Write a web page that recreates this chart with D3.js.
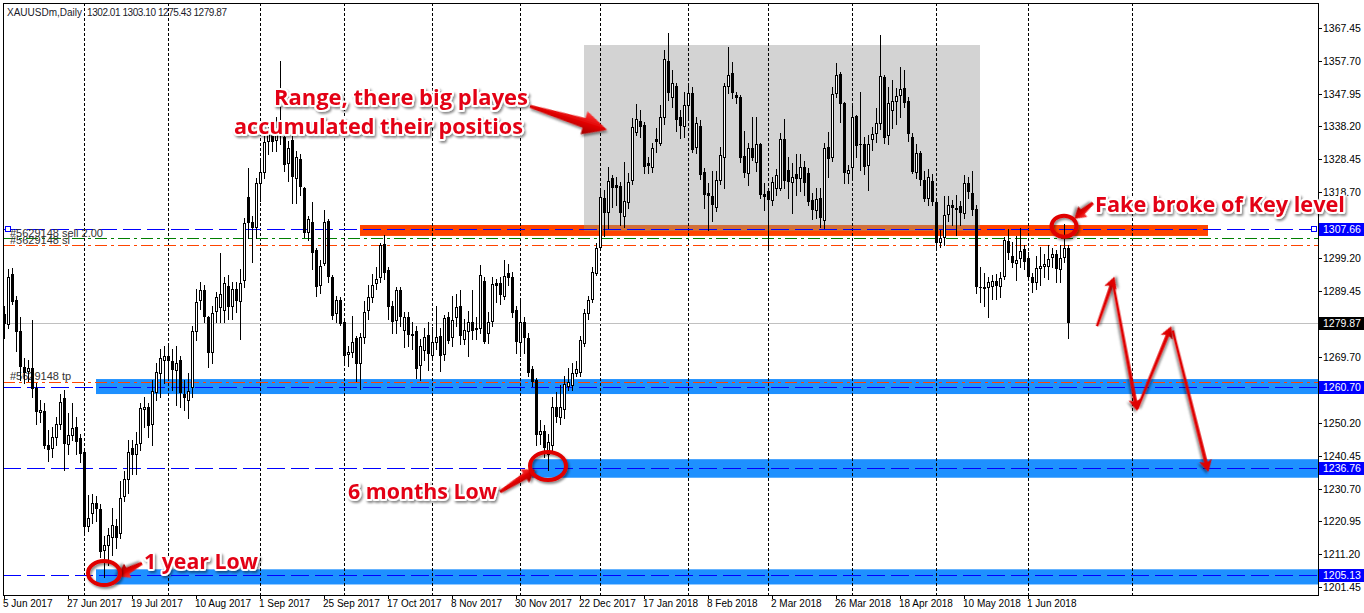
<!DOCTYPE html>
<html><head><meta charset="utf-8">
<script src="https://cdn.jsdelivr.net/npm/d3@7"></script>
<style>
html,body{margin:0;padding:0;background:#fff;overflow:hidden}
svg{display:block}
</style></head><body>
<script>
// ---------- DATA ----------
const symbolTitle = "XAUUSDm,Daily";
const lastOHLC = "1302.01 1303.10 1275.43 1279.87";
const opens = [1282.5,1279.5,1294.5,1286.7,1277.5,1266.8,1265.5,1266.5,1260.5,1253.4,1253.7,1243.5,1242.7,1246,1250,1257.6,1244,1246.6,1249,1245.7,
1241.5,1219.5,1223.4,1226.4,1224.6,1212.5,1213.9,1216.3,1219.5,1217.5,1228.5,1233.5,1242.7,1241,1244.2,1254.2,1254.9,1249.8,1259.5,1265,
1269,1270,1268.7,1266,1268.8,1258.7,1257,1260.8,1277.5,1286.7,1289.6,1281.6,1271.2,1283.4,1284.5,1283.7,1290.8,1285,1290,1286.5,
1292.6,1317.3,1309.8,1308.5,1321.4,1324.7,1333.9,1336.3,1334.2,1338,1335,1327.3,1334.2,1322.9,1328.5,1320,1307,1309.8,1301.5,1291,
1297.6,1310,1293.5,1282.8,1286.7,1280,1270.6,1271.2,1275.4,1268,1275.7,1283.7,1287.6,1291.6,1293.5,1303.3,1295.6,1285,1280.7,1289.6,
1277.7,1281.6,1276.6,1277.5,1267.4,1271.8,1276.3,1270.3,1274.2,1276,1270.6,1281.6,1275.7,1281.6,1285,1275,1277.5,1280.2,1278.3,1278.3,
1292.3,1277,1280.4,1291.7,1291.7,1287.9,1294.7,1293.5,1283.7,1274.2,1280.2,1275.5,1266.2,1262.9,1247,1247.7,1241,1243.6,1254.9,1252,
1254.3,1261,1261.4,1265,1265.3,1273.9,1282.8,1287,1294.7,1302.4,1317,1312.8,1322.9,1320.8,1320.5,1311.6,1315.8,1322.3,1336.6,1339.8,
1338.6,1327.3,1326.2,1334.5,1333.3,1341,1357.6,1347,1350.2,1341,1338.3,1344.6,1348.1,1332.1,1338.3,1324.7,1318.4,1317.5,1314.3,1322.3,
1329.1,1350.2,1354,1347.5,1347,1329.4,1324.4,1331.8,1327.7,1333,1318.2,1319,1316.4,1320,1320,1334.5,1325.3,1321.7,1324.1,1323,
1326.2,1324.4,1316.4,1313.4,1317,1310.4,1332,1329.1,1348,1353.8,1345.2,1324.4,1326.2,1341.3,1333,1333,1326.8,1334.5,1336.3,1339.2,
1352.9,1335.7,1343.1,1345.8,1347.6,1349.6,1345.8,1335.1,1324.7,1330.3,1322.3,1317,1322,1315.8,1304,1305.4,1312.2,1314.9,1314,1314.6,
1312.5,1321.4,1318.4,1313.7,1290.5,1290.2,1290.5,1290.8,1292.3,1290.8,1293.8,1304.2,1299.7,1297.6,1299.1,1301.8,1299.1,1293.5,1292,1296.2,
1296.8,1296.8,1299.4,1300.3,1295.9,1299.4,1302.01];
const highs = [1285,1296,1296.2,1288,1281.5,1269.5,1269,1280.7,1262,1257,1256,1248,1249,1252,1258.7,1260,1253,1256,1252,1247,
1242.5,1228.7,1229,1228.5,1226,1216.5,1219,1225,1221.5,1233,1236,1245,1245,1247.5,1256,1257.8,1256,1263,1268,1272,
1273,1274,1272,1273,1270,1263,1265,1279,1290,1292,1291,1282,1285,1289,1300.5,1293.5,1294,1292,1292,1296,
1311,1326,1311.5,1323,1328,1336,1339,1338,1341,1357.6,1337,1334,1336,1331,1330,1320.2,1311.6,1315.8,1302,1298.5,
1313.4,1310.7,1294,1288,1287.5,1281,1273,1282,1276,1277,1286.5,1291,1294.3,1296.5,1303.5,1306,1296.5,1286.5,1290.6,1290.5,
1283,1283,1280.2,1279,1275,1278.3,1280,1278.8,1284.8,1278.5,1282.3,1283,1288,1288.5,1289.6,1281,1283.5,1289.6,1281.5,1297,
1293.5,1283,1293.6,1293,1293.6,1298.5,1297.5,1295,1285,1286.7,1281.5,1277,1267,1263.5,1251,1249.5,1247,1258,1259.3,1261.4,
1264,1266.5,1268,1268.7,1276,1284,1288,1296.5,1303.5,1320,1319.3,1326.2,1323.8,1323.2,1321.7,1327.7,1324.4,1340.7,1344.9,1343,
1339.5,1329,1333.3,1337.8,1344.6,1360.9,1366,1355,1351,1343,1348.5,1350.2,1350,1341,1340,1325.9,1321.4,1325,1325,1332,
1351,1361.8,1357.4,1348.5,1347.5,1337,1333.3,1341,1341,1333.3,1321.4,1320,1323.2,1325.5,1336.3,1340.5,1329,1327.3,1330,1330,
1328,1326,1318.4,1320,1320,1333.3,1336.6,1350,1357,1354.5,1345.6,1326.8,1344.6,1341.5,1348.5,1335,1335.7,1338,1343.7,1365.4,
1353.5,1350,1352,1349.5,1355.9,1355,1347,1336.3,1333,1331,1325,1325.5,1324,1316.2,1307.5,1317.6,1317.6,1316.5,1317.8,1316,
1323.8,1323.2,1325,1314.9,1296.5,1294.7,1293.5,1294,1294.5,1295,1305.4,1307.8,1303.9,1305.7,1308,1303,1301,1294.7,1299.7,1302.4,
1300.3,1303,1302,1301.5,1303,1309.2,1303.10];
const lows = [1275.5,1278.5,1285.5,1271.5,1263,1262,1262.5,1258,1250,1250.5,1242.7,1239,1240,1243.5,1248.5,1236.2,1241,1245,1241,1238.5,
1217.5,1218,1220.5,1221,1210.5,1204.5,1208,1211,1213,1216,1227,1229.5,1235,1235,1242,1249,1246,1243.6,1257,1258,
1262,1262.9,1260,1255.5,1255,1254,1251.6,1258,1274.8,1284,1280,1266.7,1268,1280,1280,1280,1281,1281,1283,1275,
1290.5,1305,1298,1305,1316,1323,1330,1331,1331,1333,1325,1322,1315.5,1315.5,1318,1305.4,1304.5,1296,1288,1288.8,
1297,1292,1281,1280,1279.2,1267.5,1267,1269.7,1262.6,1260.2,1274,1281,1286,1290,1292,1293,1281,1277,1277,1279,
1272.7,1273,1272,1263.5,1263,1269,1266,1269,1272,1265.6,1269,1274,1273,1279,1273.5,1273.5,1270,1275,1275,1277,
1273.8,1274,1279,1286,1285.5,1287,1291,1281.5,1271,1270,1271,1264,1261,1243.5,1244,1240,1236.2,1242,1250.4,1250,
1251.5,1260,1260,1264,1264,1273,1281,1286,1294,1301.5,1305.7,1308,1314.3,1314.9,1309,1308.4,1314,1321,1335.7,1335,
1324.4,1324.4,1324.7,1330.6,1332.7,1339,1346,1344,1337,1334.8,1335,1341,1330.6,1330.3,1322.5,1314,1307.5,1310,1313,1321,
1320,1348,1346.7,1345.2,1327.7,1323.2,1320.8,1328.2,1325,1317,1313.5,1301.5,1314.9,1318,1319.3,1320,1317,1312.5,1318,1319,
1318,1315,1310.7,1311,1308.5,1308,1323.2,1328,1347,1339.5,1321.4,1321.4,1323.2,1329,1325.3,1324,1319.3,1331.2,1333.6,1337.5,
1333.3,1333,1337.8,1339,1341,1344,1334,1324.4,1323,1320.8,1316,1315,1315,1301.5,1302.4,1303,1310,1309,1306,1309,
1311,1317,1312,1288.8,1286,1285,1281.6,1287,1287,1287.6,1293,1299,1296.5,1292.6,1296.5,1296,1292.6,1289,1290,1291,
1293.5,1293,1296.5,1292,1292,1298,1275.43];
const closes = [1279.5,1293.5,1286.2,1277.3,1266.8,1265,1266.5,1260.2,1253.4,1254,1243.2,1242,1246,1250,1256.4,1244,1246.6,1248.6,1244.5,1241,
1219.2,1221.8,1226.4,1224.6,1211.8,1213.8,1216.8,1219.8,1216,1228,1233.5,1241.5,1240.6,1243.9,1254.6,1255,1249.2,1259.6,1265.3,1269.4,
1270,1268.5,1265.8,1268,1259,1257.5,1259.6,1277.4,1286,1289.6,1281.6,1271,1282.8,1287.5,1288.5,1291.7,1284.6,1290,1286.5,1291.6,
1309.5,1309.5,1308.2,1321.3,1324.7,1333.5,1336.3,1333.6,1338,1336,1326.8,1331.8,1323.2,1329.1,1320.2,1306.7,1310.7,1300.6,1290.5,1296.7,
1309.8,1293.5,1282,1286.7,1279.5,1270,1271.2,1274.2,1267.6,1275.7,1283,1287.6,1291,1293,1303,1294.7,1284.6,1280.1,1289.6,1281.6,
1281.6,1276.3,1276,1266.2,1273,1275.7,1270.6,1274.2,1275.7,1270,1281.3,1274.5,1280.7,1284.6,1276,1277.7,1280,1277.5,1277.8,1294,
1274.2,1280,1291.4,1290.8,1288.2,1293.8,1293.2,1282.8,1274.2,1280.2,1275.5,1265,1262.3,1246.6,1247.8,1242.7,1244.5,1254.9,1252,1255,
1261.7,1262.3,1265,1266.2,1274.8,1282.8,1286.7,1295,1302,1317.3,1312.5,1322,1320,1320,1312.5,1316,1321.7,1338,1340.4,1338,
1326.2,1326.5,1331.8,1333.6,1341,1358.2,1348,1351.1,1340.1,1338.3,1344.6,1348.1,1331.2,1339.2,1323.8,1317.9,1317.5,1315,1322.3,1329.7,
1350.2,1353.5,1348,1346.7,1328.8,1324.4,1331.8,1328.8,1333,1317.9,1317.3,1316.4,1321.7,1323.8,1334.5,1322,1321.7,1323.2,1322.6,1326.2,
1321.4,1315.8,1313.4,1316.7,1311,1331.8,1328.5,1347.8,1353.5,1344.9,1324.4,1325.3,1341,1332.4,1332.6,1326.2,1333,1336,1339.2,1353.2,
1334.8,1345.2,1345.8,1347.3,1349.3,1345.2,1336,1324.6,1330.3,1322.3,1316.7,1323.2,1315.8,1303.6,1305,1312,1314.9,1314,1313.5,1312.5,
1321.4,1318.7,1313.4,1290.5,1290.2,1290.6,1292,1292.3,1290.8,1293.2,1304.5,1300.6,1297.6,1298.5,1301.2,1298,1293.5,1291.7,1296.2,1296.8,
1297.4,1298.8,1300.3,1295.9,1299.1,1302.1,1279.87];

const dateLabels = ["5 Jun 2017","27 Jun 2017","19 Jul 2017","10 Aug 2017","1 Sep 2017","25 Sep 2017","17 Oct 2017","8 Nov 2017",
"30 Nov 2017","22 Dec 2017","17 Jan 2018","8 Feb 2018","2 Mar 2018","26 Mar 2018","18 Apr 2018","10 May 2018","1 Jun 2018"];
const dateLabelBars = [0,16,32,48,64,80,96,112,128,144,160,176,192,208,224,240,256];
const monthStartBars = [20,41,64,85,107,129,149,171,191,212,233,256,282];
const priceTicks = [1367.45,1357.70,1347.95,1338.20,1328.45,1318.70,1299.20,1289.45,1269.70,1250.20,1240.45,1230.70,1220.95,1211.20,1201.45];
const levelMarks = [1307.66,1260.70,1236.76,1205.13];
const currentPrice = 1279.87;
const orderLine = 1307.66, slLine1 = 1305.0, slLine2 = 1303.0, tpLine = 1262.4;
const orderLabels = ["#5629148 sell 2.00","#5629148 sl","#5629148 tp"];

// ---------- SCALES ----------
const W = 1364, H = 613;
const plotL = 3, plotR = 1318, plotT = 3, plotB = 595;
const x = d3.scaleLinear().domain([0, 266]).range([4, 1068]);
const y = d3.scaleLinear().domain([1201.45, 1367.45]).range([587, 28]);
const red = "#e30613";

const svg = d3.select("body").append("svg").attr("width", W).attr("height", H)
  .style("font-family", "'Liberation Sans', Arial, sans-serif");

const defs = svg.append("defs");
const clip = defs.append("clipPath").attr("id","plotclip");
clip.append("rect").attr("x",plotL).attr("y",plotT).attr("width",plotR-plotL).attr("height",plotB-plotT);
const sh = defs.append("filter").attr("id","shadow").attr("x","-20%").attr("y","-20%").attr("width","140%").attr("height","160%");
sh.append("feDropShadow").attr("dx",1.5).attr("dy",2).attr("stdDeviation",1.2).attr("flood-color","#000").attr("flood-opacity",0.45);
const grad = defs.append("linearGradient").attr("id","arrowgrad").attr("x1","0").attr("y1","0").attr("x2","0").attr("y2","1");
grad.append("stop").attr("offset","0%").attr("stop-color","#ff4040");
grad.append("stop").attr("offset","50%").attr("stop-color","#e00000");
grad.append("stop").attr("offset","100%").attr("stop-color","#a00000");

svg.append("rect").attr("width",W).attr("height",H).attr("fill","#fff");

const plot = svg.append("g").attr("clip-path","url(#plotclip)");
const xRight = plotR;

// Range box (grey)
plot.append("rect").attr("x", x(145)).attr("y", y(1362.4))
  .attr("width", x(244)-x(145)).attr("height", y(1307.2)-y(1362.4)).attr("fill","#d3d3d3");
// Blue zones
const zones = [{i0:23, top:1263.2, bot:1258.75},{i0:132, top:1239.4, bot:1233.9},{i0:23, top:1206.7, bot:1202.2}];
plot.selectAll("rect.zone").data(zones).join("rect").attr("class","zone")
  .attr("x", d=>x(d.i0)).attr("y", d=>y(d.top)).attr("width", d=>xRight - x(d.i0)).attr("height", d=>y(d.bot)-y(d.top))
  .attr("fill","#1e90ff");
// Key level (orange)
plot.append("rect").attr("x", x(89)).attr("y", y(1308.95)).attr("width", x(301)-x(89)).attr("height", y(1305.7)-y(1308.95)).attr("fill","#ff4500");
plot.append("rect").attr("x", x(145)).attr("y", y(1308.95)).attr("width", x(244)-x(145)).attr("height", y(1307.2)-y(1308.95)).attr("fill","#d2703a");

// Vertical grid (month starts)
plot.selectAll("line.vgrid").data(monthStartBars).join("line").attr("class","vgrid")
  .attr("x1", d=>x(d)+0.5).attr("x2", d=>x(d)+0.5).attr("y1", plotT).attr("y2", plotB)
  .attr("stroke","#000").attr("stroke-dasharray","3,2").attr("stroke-width",1);

// Horizontal lines
const hl = (p, color, dash, x0) => plot.append("line").attr("x1", x0 ?? plotL).attr("x2", xRight)
  .attr("y1", Math.round(y(p))+0.5).attr("y2", Math.round(y(p))+0.5).attr("stroke", color).attr("stroke-dasharray", dash);
hl(currentPrice, "#c0c0c0", null);
hl(slLine1, "#008000", "12,4,3,4");
hl(slLine2, "#ff4500", "12,4,3,4");
hl(tpLine, "#ff4500", "12,4,3,4");
levelMarks.forEach(p => hl(p, "#0000ff", "18,6"));
plot.append("rect").attr("x", plotL+2.5).attr("y", Math.round(y(orderLine))-2.5).attr("width",5).attr("height",5).attr("fill","#fff").attr("stroke","#0000ff");
plot.append("rect").attr("x", plotR-6.5).attr("y", Math.round(y(orderLine))-2.5).attr("width",5).attr("height",5).attr("fill","#fff").attr("stroke","#0000ff");
// order labels
const olab = plot.append("g").attr("font-size",11).attr("fill","#333");
olab.append("text").attr("x",10).attr("y", y(orderLine)+8).text(orderLabels[0]);
olab.append("text").attr("x",10).attr("y", y(slLine1)+6).text(orderLabels[1]);
olab.append("text").attr("x",10).attr("y", y(tpLine)-2).text(orderLabels[2]);

// Candles
const bars = d3.range(opens.length).map(i => ({i, o:opens[i], h:highs[i], l:lows[i], c:closes[i]}));
const cg = plot.append("g");
cg.selectAll("line.wick").data(bars).join("line").attr("class","wick")
  .attr("x1", d=>x(d.i)+0.5).attr("x2", d=>x(d.i)+0.5)
  .attr("y1", d=>Math.round(y(d.h))).attr("y2", d=>Math.round(y(d.l))+1)
  .attr("stroke","#000").attr("stroke-width",1);
cg.selectAll("rect.body").data(bars).join("rect").attr("class","body")
  .attr("x", d=> d.c>=d.o ? x(d.i)-0.5 : x(d.i)-1)
  .attr("y", d=> d.c>=d.o ? Math.round(y(d.c))+0.5 : Math.round(y(d.o)))
  .attr("width", d=> d.c>=d.o ? 2 : 3)
  .attr("height", d=> Math.max(Math.abs(Math.round(y(d.o))-Math.round(y(d.c))),1))
  .attr("fill", d=> d.c>=d.o ? "#fff" : "#000")
  .attr("stroke", d=> d.c>=d.o ? "#000" : "none").attr("stroke-width",1);

// Frame
svg.append("rect").attr("x",plotL+0.5).attr("y",plotT+0.5).attr("width",plotR-plotL).attr("height",plotB-plotT)
  .attr("fill","none").attr("stroke","#000");

// Right axis
const ax = svg.append("g").attr("font-size",10.5).attr("fill","#000");
ax.selectAll("line.pt").data(priceTicks).join("line").attr("class","pt")
  .attr("x1",plotR).attr("x2",plotR+4).attr("y1",d=>Math.round(y(d))+0.5).attr("y2",d=>Math.round(y(d))+0.5).attr("stroke","#000");
ax.selectAll("text.pt").data(priceTicks).join("text").attr("class","pt")
  .attr("x",plotR+5).attr("y",d=>y(d)+4).text(d=>d.toFixed(2));
// Level labels
const lab = svg.append("g").attr("font-size",10.5);
const labData = levelMarks.map(p=>({p, bg:"#0000ff"})).concat([{p:currentPrice, bg:"#000"}]);
lab.selectAll("rect").data(labData).join("rect").attr("x",plotR+1).attr("y",d=>Math.round(y(d.p))-6).attr("width",W-plotR-1).attr("height",13).attr("fill",d=>d.bg);
lab.selectAll("text").data(labData).join("text").attr("x",plotR+5).attr("y",d=>y(d.p)+4).attr("fill","#fff").text(d=>d.p.toFixed(2));

// Bottom axis
const bx = svg.append("g").attr("font-size",10).attr("fill","#000");
bx.selectAll("line").data(dateLabelBars).join("line").attr("x1",d=>x(d)+0.5).attr("x2",d=>x(d)+0.5).attr("y1",plotB).attr("y2",plotB+4).attr("stroke","#000");
bx.selectAll("text").data(dateLabelBars).join("text").attr("x",d=>x(d)-1).attr("y",plotB+12).text((d,k)=>dateLabels[k]);

// Header
const hdr = svg.append("g").attr("font-size",10).attr("fill","#1a1a2a");
hdr.append("text").attr("x",7).attr("y",16).text(symbolTitle);
hdr.append("text").attr("x",87).attr("y",16).attr("textLength",140).attr("lengthAdjust","spacing").text(lastOHLC);

// ---------- ANNOTATIONS ----------
const ann = svg.append("g");
function fatArrow(t, h, head, hw, sw0, sw1){
  const x0=x(t[0]), y0=y(t[1]), x1=x(h[0]), y1=y(h[1]);
  const L = Math.hypot(x1-x0, y1-y0), ang = Math.atan2(y1-y0, x1-x0)*180/Math.PI;
  const pts = [[0,-sw0],[L-head,-sw1],[L-head,-hw],[L,0],[L-head,hw],[L-head,sw1],[0,sw0]];
  ann.append("path").attr("d", d3.line()(pts)+"Z").attr("transform",`translate(${x0},${y0}) rotate(${ang})`)
    .attr("fill","url(#arrowgrad)").attr("filter","url(#shadow)");
}
function lineArrow(t, h){
  const x0=x(t[0]), y0=y(t[1]), x1=x(h[0]), y1=y(h[1]);
  const L = Math.hypot(x1-x0, y1-y0), ang = Math.atan2(y1-y0, x1-x0)*180/Math.PI;
  const g = ann.append("g").attr("transform",`translate(${x0},${y0}) rotate(${ang})`).attr("filter","url(#shadow)");
  g.append("path").attr("d", d3.line()([[0,-1.3],[L-10,-1.8],[L-12,-6.5],[L,0],[L-12,6.5],[L-10,1.8],[0,1.3]])+"Z").attr("fill","#e00000");
}
fatArrow([131.5,1344.2],[150.75,1337.2], 24, 12, 1.5, 5);
fatArrow([34.5,1208.5],[28.3,1204.6], 12, 8, 1.5, 3.5);
fatArrow([124,1229.7],[132.75,1236.3], 12, 8, 1.5, 3.5);
fatArrow([272.25,1315.5],[267.6,1310.8], 11, 7, 1.5, 3);
lineArrow([273.25,1278.9],[277.6,1293.6]);
lineArrow([277.3,1291.5],[283.3,1253.7]);
lineArrow([283.3,1254.3],[291.8,1278.9]);
lineArrow([292.2,1277.6],[301.1,1235.6]);

const circles = [{i:25,p:1205.6,rx:16,ry:12},{i:136,p:1237.4,rx:18,ry:14},{i:265,p:1308.6,rx:12.5,ry:10.5}];
ann.selectAll("ellipse").data(circles).join("ellipse").attr("cx",d=>x(d.i)).attr("cy",d=>y(d.p))
  .attr("rx",d=>d.rx).attr("ry",d=>d.ry).attr("fill","none").attr("stroke","#e00000").attr("stroke-width",4).attr("filter","url(#shadow)");

const notes = [
  {t:"Range, there big playes", i:67.5, p:1344.6, w:254},
  {t:"accumulated their positios", i:57.5, p:1335.9, w:289},
  {t:"Fake broke of Key level", i:272.75, p:1312.8, w:250},
  {t:"6 months Low", i:86, p:1227.6, w:149},
  {t:"1 year Low", i:35, p:1206.8, w:114}
];
ann.selectAll("text.note").data(notes).join("text").attr("class","note")
  .attr("x",d=>x(d.i)).attr("y",d=>y(d.p)).attr("textLength",d=>d.w).attr("lengthAdjust","spacingAndGlyphs")
  .attr("font-family","'Open Sans', 'Noto Sans', sans-serif").attr("font-weight",700).attr("font-size",22)
  .attr("fill",red).attr("stroke","#fff").attr("stroke-width",4).attr("stroke-linejoin","round").attr("paint-order","stroke")
  .attr("filter","url(#shadow)").text(d=>d.t);
</script>
</body></html>
